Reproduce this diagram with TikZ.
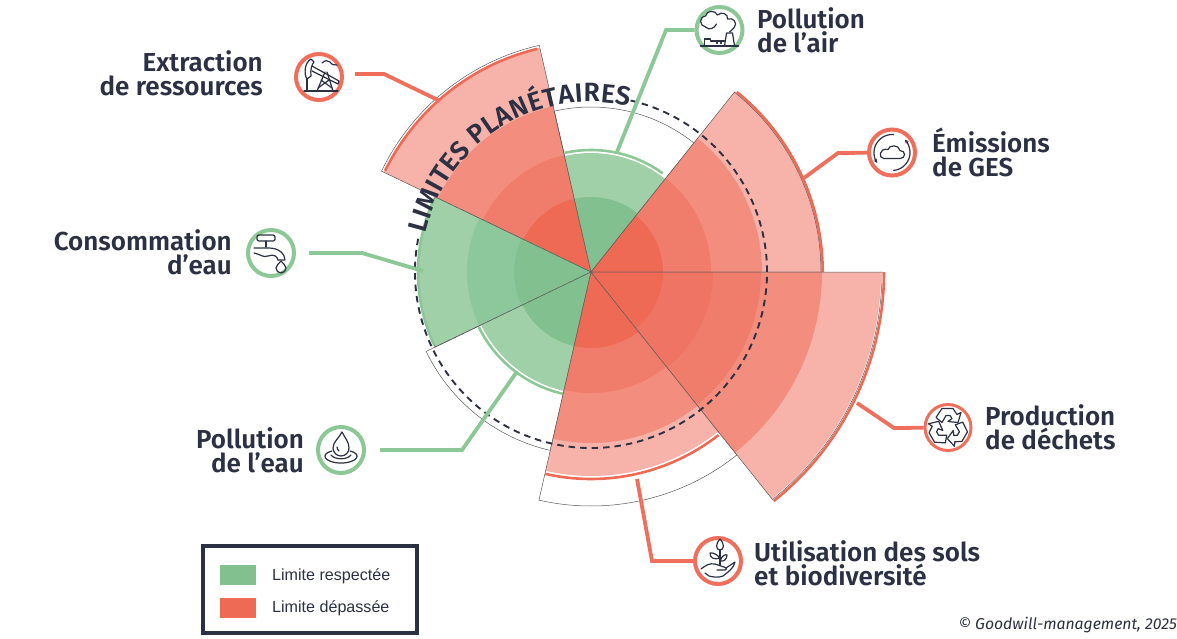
\documentclass[tikz,border=0pt]{standalone}
\usepackage{fontspec}
\usepackage{tikz}
\usetikzlibrary{arrows.meta}
\usetikzlibrary{decorations.text}
\setmainfont{Fira Sans}
\newfontfamily\labelfont{Fira Sans SemiBold}
\newfontfamily\legendfont{Liberation Sans}
\definecolor{marine}{HTML}{2B3042}
\definecolor{rougeA}{HTML}{EE6A55}
\definecolor{rougeB}{HTML}{EF7463}
\definecolor{rougeC}{HTML}{F07C6B}
\definecolor{rougeD}{HTML}{F38E7E}
\definecolor{rougeE}{HTML}{F7B3AA}
\definecolor{vertA}{HTML}{82C18F}
\definecolor{vertB}{HTML}{8DC89C}
\definecolor{vertC}{HTML}{A0D0A8}
\definecolor{lienvert}{HTML}{8CC796}
\definecolor{lienrouge}{HTML}{EF6F5C}
\tikzset{
  contour/.style={draw=black!65,line width=0.5pt},
  bordrouge/.style={draw=rougeA,line width=2.6pt},
  bordvert/.style={draw=lienvert,line width=2.6pt},
  liaisonrouge/.style={draw=lienrouge,line width=3.8pt,line join=miter},
  liaisonvert/.style={draw=lienvert,line width=3.8pt,line join=miter},
  rondrouge/.style={circle,draw=lienrouge,line width=4pt,fill=white,minimum size=46pt,inner sep=0pt},
  rondvert/.style={circle,draw=lienvert,line width=4pt,fill=white,minimum size=46pt,inner sep=0pt},
  icone/.style={draw=marine,line width=1.2pt,line cap=round,line join=round},
  etiquette/.style={inner sep=0pt,text=marine,font=\labelfont\fontsize{26}{24}\selectfont},
  legende/.style={inner sep=0pt,anchor=west,text=marine,font=\legendfont\fontsize{16.1}{18}\selectfont}
}
\newcommand{\arcfont}{\labelfont\fontsize{26.5}{24}\selectfont}
\begin{document}
\begin{tikzpicture}[x=1pt,y=1pt]
\useasboundingbox (0,0) rectangle (1177,-638);
\coordinate (c) at (591,-272);

\fill[rougeE] (c) -- ++(102.86:230) arc (102.86:154.29:230) -- cycle;
\fill[rougeD] (c) -- ++(102.86:170) arc (102.86:154.29:170) -- cycle;
\fill[rougeC] (c) -- ++(102.86:120) arc (102.86:154.29:120) -- cycle;
\fill[rougeA] (c) -- ++(102.86:75) arc (102.86:154.29:75) -- cycle;
\draw[contour] (c) -- ++(102.86:232.5) arc (102.86:154.29:232.5) -- cycle;
\draw[bordrouge] (c) ++(103.5:229.5) arc (103.5:153.8:229.5);

\fill[vertC] (c) -- ++(51.43:119) arc (51.43:102.86:119) -- cycle;
\fill[vertA] (c) -- ++(51.43:75) arc (51.43:102.86:75) -- cycle;
\draw[contour] (c) -- ++(51.43:165) arc (51.43:102.86:165) -- cycle;
\draw[bordvert] (c) ++(54:122) arc (54:102.5:122);

\fill[rougeE] (c) -- ++(0:231) arc (0:51.43:231) -- cycle;
\fill[rougeD] (c) -- ++(0:171) arc (0:51.43:171) -- cycle;
\fill[rougeC] (c) -- ++(0:120) arc (0:51.43:120) -- cycle;
\fill[rougeA] (c) -- ++(0:72) arc (0:51.43:72) -- cycle;
\draw[contour] (c) -- ++(0:230) arc (0:51.43:230) -- cycle;
\draw[bordrouge] (c) ++(0:231.7) arc (0:51:231.7);

\fill[vertC] (c) -- ++(154.29:173) arc (154.29:205.71:173) -- cycle;
\fill[vertB] (c) -- ++(154.29:124) arc (154.29:205.71:124) -- cycle;
\fill[vertA] (c) -- ++(154.29:77) arc (154.29:205.71:77) -- cycle;
\draw[contour] (c) -- ++(154.29:173) arc (154.29:205.71:173) -- cycle;
\draw[bordvert] (c) ++(155:173) arc (155:205:173);

\fill[vertC] (c) -- ++(205.71:122) arc (205.71:257.14:122) -- cycle;
\fill[vertA] (c) -- ++(205.71:76) arc (205.71:257.14:76) -- cycle;
\draw[contour] (c) -- ++(205.71:183) arc (205.71:257.14:183) -- cycle;
\draw[bordvert] (c) ++(206:125) arc (206:257:125);

\fill[rougeE] (c) -- ++(257.14:204) arc (257.14:308.57:204) -- cycle;
\fill[rougeD] (c) -- ++(257.14:171) arc (257.14:308.57:171) -- cycle;
\fill[rougeC] (c) -- ++(257.14:121) arc (257.14:308.57:121) -- cycle;
\fill[rougeA] (c) -- ++(257.14:76) arc (257.14:308.57:76) -- cycle;
\draw[contour] (c) -- ++(257.14:234) arc (257.14:308.57:234) -- cycle;
\draw[bordrouge] (c) ++(257.14:207) arc (257.14:308:207);

\fill[rougeE] (c) -- ++(308.57:290) arc (308.57:360:290) -- cycle;
\fill[rougeD] (c) -- ++(308.57:231) arc (308.57:360:231) -- cycle;
\fill[rougeC] (c) -- ++(308.57:170) arc (308.57:360:170) -- cycle;
\fill[rougeB] (c) -- ++(308.57:122) arc (308.57:360:122) -- cycle;
\fill[rougeA] (c) -- ++(308.57:72) arc (308.57:360:72) -- cycle;
\draw[contour] (c) -- ++(308.57:291) arc (308.57:360:291) -- cycle;
\draw[bordrouge] (c) ++(308.57:293) arc (308.57:360:293);

\draw[marine,line width=1.9pt,dash pattern=on 6.5pt off 5pt] (c) ++(77:176) arc (77:-192:176);
\path[decorate,decoration={text along path,text align=fit to path,text color=marine,text={|\arcfont|LIMITES PLANÉTAIRES}}] (c) ++(167:170) arc (167:77:170);

\coordinate (air-coude) at (666,-30);
\coordinate (air-fin) at (617,-152);
\coordinate (ges-coude) at (838,-153);
\coordinate (ges-fin) at (804,-178);
\coordinate (dechets-coude) at (894,-428);
\coordinate (dechets-fin) at (857,-403);
\coordinate (sols-coude) at (652,-561);
\coordinate (sols-fin) at (637,-479);
\coordinate (eau-debut) at (380,-450);
\coordinate (eau-coude) at (462,-450);
\coordinate (eau-fin) at (516,-373);
\coordinate (conso-debut) at (309,-253);
\coordinate (conso-coude) at (362,-253);
\coordinate (conso-fin) at (423,-271);
\coordinate (res-debut) at (355,-74);
\coordinate (res-coude) at (384,-74);
\coordinate (res-fin) at (440,-101);

\node[rondvert] (air) at (719.5,-30) {};
\node[rondrouge] (ges) at (892,-152.5) {};
\node[rondrouge,line width=3pt] (dechets) at (948,-427.5) {};
\node[rondrouge] (sols) at (718,-561) {};
\node[rondvert] (eau) at (341,-450) {};
\node[rondvert] (conso) at (271,-253) {};
\node[rondrouge] (res) at (319,-77) {};

\draw[liaisonvert] (air) -- (air-coude) -- (air-fin);
\draw[liaisonrouge] (ges) -- (ges-coude) -- (ges-fin);
\draw[liaisonrouge] (dechets) -- (dechets-coude) -- (dechets-fin);
\draw[liaisonrouge] (sols) -- (sols-coude) -- (sols-fin);
\draw[liaisonvert] (eau-debut) -- (eau-coude) -- (eau-fin);
\draw[liaisonvert] (conso-debut) -- (conso-coude) -- (conso-fin);
\draw[liaisonrouge] (res-debut) -- (res-coude) -- (res-fin);

\begin{scope}[shift={(air)}]
\draw[icone] (-14,3) .. controls (-20,4) and (-21,13) .. (-14,14) .. controls (-13,20) and (-4,20) .. (-2,15) .. controls (2,19) and (9,16) .. (8,11) .. controls (14,13) and (18,7) .. (15,3) .. controls (14,1) and (12,0) .. (10,-2);
\draw[icone] (-14,3) .. controls (-10,-1) and (-5,2) .. (-3,6);
\draw[icone] (-19,-16) -- (19,-16);
\draw[icone] (5,-16) -- (7,-3) -- (13,-3) -- (15,-16);
\draw[icone] (-15,-16) -- (-15,-9) -- (-9,-9) -- (-9,-11) -- (5,-11);
\draw[icone] (-3,-13) -- (-2,-13) (1,-13) -- (2,-13);
\end{scope}

\begin{scope}[shift={(ges)}]
\draw[icone,-{Stealth[length=4pt,width=4pt]}] (85:18) arc (85:215:18);
\draw[icone,-{Stealth[length=4pt,width=4pt]}] (-85:18) arc (-85:45:18);
\draw[icone] (-8,-6) -- (8,-6) .. controls (14,-6) and (14,2) .. (8,2) .. controls (7,8) and (-3,8) .. (-4,3) .. controls (-13,5) and (-14,-6) .. (-8,-6) -- cycle;
\end{scope}

\begin{scope}[shift={(dechets)}]
\foreach \a in {0,120,240}
  \draw[icone,rotate=\a] (-12,10) -- (-6,19) -- (5,19) -- (9,13) -- (13,15) -- (10,5) -- (0,6) -- (4,9) -- (2,12) -- (-2,12) -- (-6,5) -- cycle;
\end{scope}

\begin{scope}[shift={(sols)}]
\draw[icone] (2,22) .. controls (-3,17) and (-2,11) .. (2,11) .. controls (6,11) and (7,17) .. (2,22);
\draw[icone] (2,11) -- (2,-4);
\draw[icone] (2,3) .. controls (-3,9) and (-7,8) .. (-8,8) .. controls (-8,3) and (-4,1) .. (2,3);
\draw[icone] (2,0) .. controls (4,6) and (8,7) .. (9,6) .. controls (9,2) and (6,-1) .. (2,0);
\draw[icone] (-17,-8) .. controls (-12,-4) and (-8,-2) .. (-3,-3) -- (6,-6) .. controls (9,-7) and (9,-9) .. (7,-9) -- (-1,-9);
\draw[icone] (8,-7) -- (17,-1) .. controls (16,-7) and (10,-11) .. (5,-15) .. controls (0,-17) and (-5,-16) .. (-9,-15) -- (-13,-12);
\end{scope}

\begin{scope}[shift={(eau)}]
\draw[icone] (1,18) .. controls (-2,12) and (-8,8) .. (-8,2) arc (180:360:8) .. controls (8,8) and (4,12) .. (1,18);
\draw[icone] (-4,3) .. controls (-4,1) and (-3,0) .. (-2,-1);
\draw[icone] (-9,-1) .. controls (-22,-4) and (-16,-13) .. (0,-13) .. controls (16,-13) and (22,-4) .. (9,-1);
\draw[icone] (-10,-5) .. controls (-6,-10) and (6,-10) .. (10,-5);
\end{scope}

\begin{scope}[shift={(conso)}]
\draw[icone,rounded corners=2pt] (-14,12) rectangle (4,18);
\draw[icone] (-5,12) -- (-5,6);
\draw[icone] (-17,5) -- (-2,5) .. controls (8,5) and (14,-1) .. (14,-7) -- (7,-7);
\draw[icone] (-17,0) .. controls (-11,-1) and (-8,-5) .. (-3,-3) .. controls (3,-1) and (6,-3) .. (7,-7);
\draw[icone] (10,-8) .. controls (12,-11) and (15,-12) .. (15,-15) arc (0:-180:5) .. controls (5,-12) and (8,-11) .. (10,-8);
\end{scope}

\begin{scope}[shift={(res)}]
\draw[icone] (-15,-14) -- (19,-14);
\draw[icone] (-7,11) -- (20,-4) -- (19,-7) -- (-7,6);
\draw[icone] (-8,18) .. controls (-15,14) and (-15,2) .. (-12,-2) -- (-8,1) .. controls (-9,7) and (-7,13) .. (-5,15) -- cycle;
\draw[icone] (-12,-2) -- (-12,-14);
\draw[icone] (-2,-14) -- (6,5) (14,-14) -- (8,5);
\draw[icone] (-1,-11) -- (10,-3) (13,-11) -- (2,-3);
\draw[icone] (3,14) .. controls (6,17) and (9,17) .. (11,15) .. controls (13,12) and (15,12) .. (18,12);
\end{scope}

\node[etiquette,anchor=west,align=left] (t-air) at (757,-30) {Pollution\\de l’air};
\node[etiquette,anchor=west,align=left] (t-ges) at (932,-152) {Émissions\\de GES};
\node[etiquette,anchor=west,align=left] (t-dechets) at (985,-427) {Production\\de déchets};
\node[etiquette,anchor=west,align=left] (t-sols) at (754,-563) {Utilisation des sols\\et biodiversité};
\node[etiquette,anchor=east,align=right] (t-eau) at (304,-450.5) {Pollution\\de l’eau};
\node[etiquette,anchor=east,align=right] (t-conso) at (232,-252) {Consommation\\d’eau};
\node[etiquette,anchor=east,align=right] (t-res) at (263,-73) {Extraction\\de ressources};

\draw[marine,line width=4.5pt] (203,-546) rectangle (417,-633);
\fill[vertA] (220,-565) rectangle (256,-585);
\fill[rougeA] (220,-598) rectangle (256,-618);
\node[legende] (l-ok) at (272,-576) {Limite respectée};
\node[legende] (l-ko) at (272,-608) {Limite dépassée};
\node[anchor=east,inner sep=0pt,text=marine,font=\itshape\fontsize{15.75}{16}\selectfont] (credit) at (1177,-625.5) {© Goodwill-management, 2025};
\end{tikzpicture}
\end{document}
